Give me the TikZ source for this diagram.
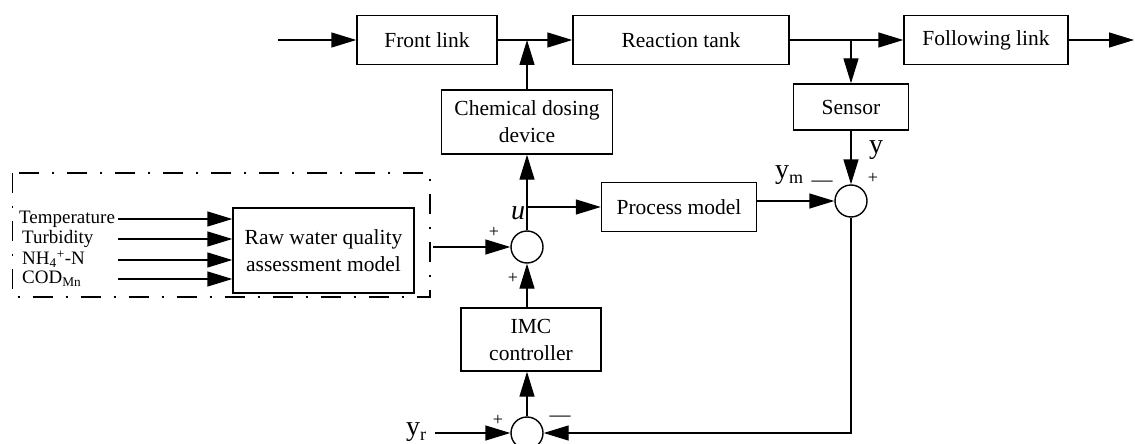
\documentclass[tikz,border=0pt]{standalone}
\usepackage{fontspec}
\setmainfont{Liberation Serif}
\usetikzlibrary{arrows.meta}
\begin{document}
\begin{tikzpicture}[x=1pt,y=-1pt,
  box/.style={draw, line width=1.4pt, inner sep=0pt, align=center, font=\fontsize{21.5}{27}\selectfont},
  sumc/.style={draw, circle, line width=1.4pt, minimum size=32pt, inner sep=0pt},
  arr/.style={line width=1.4pt, -{Triangle[length=25pt,width=15pt]}},
  ln/.style={line width=1.4pt},
  sig/.style={font=\fontsize{19}{22}\selectfont, inner sep=0pt, anchor=west},
  pm/.style={font=\fontsize{18}{18}\selectfont, inner sep=0pt},
  bar/.style={font=\fontsize{21}{21}\selectfont, inner sep=0pt},
  big/.style={font=\fontsize{28}{28}\selectfont, inner sep=0pt}]
\useasboundingbox (0,0) rectangle (1135,444);

% blocks
\node[box, minimum width=140pt, minimum height=49pt] (front) at (427,40) {Front link};
\node[box, minimum width=216pt, minimum height=49pt] (tank) at (681,40) {Reaction tank};
\node[box, minimum width=164pt, minimum height=49pt] (follow) at (986,40) {Following link};
\node[box, minimum width=115pt, minimum height=46pt] (sensor) at (851,107) {Sensor};
\node[box, minimum width=171pt, minimum height=64pt] (chem) at (527,122) {Chemical dosing\\device};
\node[box, minimum width=155pt, minimum height=49pt] (model) at (679,207) {Process model};
\node[box, minimum width=181pt, minimum height=85pt] (raw) at (323.5,250.5) {Raw water quality\\assessment model};
\node[box, minimum width=140pt, minimum height=63pt] (imc) at (531,339.5) {IMC\\controller};
\node[sumc] (s1) at (527,247) {};
\node[sumc] (s2) at (851,201) {};
\node[sumc] (s3) at (527,433) {};

% dash-dot frame
\draw[ln, dash pattern=on 20pt off 13pt on 2pt off 13pt] (12.7,173) rectangle (430,297);

% coordinates
\coordinate (in) at (278,40);
\coordinate (j1) at (527,40);
\coordinate (j2) at (851,40);
\coordinate (out) at (1134,40);
\coordinate (ju) at (527,207);
\coordinate (frameE) at (433,247);
\coordinate (yr) at (435,433);

% connectors
\draw[arr] (in) -- (front.west);
\draw[arr] (front.east) -- (tank.west);
\draw[arr] (chem.north) -- (j1);
\draw[arr] (tank.east) -- (follow.west);
\draw[arr] (j2) -- (sensor.north);
\draw[arr] (follow.east) -- (out);
\draw[arr] (sensor.south) -- (s2.north);
\draw[arr] (model.east |- s2) -- (s2.west);
\draw[arr] (s1.north) -- (chem.south);
\draw[arr] (ju) -- (model.west);
\draw[arr] (frameE) -- (s1.west);
\draw[arr] (imc.north -| s1) -- (s1.south);
\draw[arr] (s3.north) -- (imc.south -| s3);
\draw[arr] (yr) -- (s3.west);
\draw[arr] (s2.south) |- (s3.east);

% inputs
\node[sig] (t1) at (19,219) {Temperature};
\node[sig] (t2) at (22,239) {Turbidity};
\node[sig] (t3) at (22,259) {NH\textsubscript{4}\textsuperscript{+}-N};
\node[sig] (t4) at (22,279) {COD\textsubscript{Mn}};
\coordinate (a1) at (118,219);
\coordinate (a2) at (118,239);
\coordinate (a3) at (118,260);
\coordinate (a4) at (118,279);
\draw[arr] (a1) -- (a1 -| raw.west);
\draw[arr] (a2) -- (a2 -| raw.west);
\draw[arr] (a3) -- (a3 -| raw.west);
\draw[arr] (a4) -- (a4 -| raw.west);

% labels
\node[big] (ylab) at (876,150) {y};
\node[pm] (p2) at (873,178) {+};
\node[big] (ymlab) at (789,175) {y\raisebox{-5pt}{\fontsize{18}{18}\selectfont m}};
\node[bar] (m2) at (822,184) {—};
\node[big, font=\fontsize{28}{28}\selectfont\itshape] (ulab) at (518,213) {u};
\node[pm] (p1a) at (494,232) {+};
\node[pm] (p1b) at (513,278) {+};
\node[big] (yrlab) at (416,432) {y\raisebox{-5pt}{\fontsize{18}{18}\selectfont r}};
\node[pm] (p3) at (498,420) {+};
\node[bar] (m3) at (560,419) {—};
\end{tikzpicture}
\end{document}
